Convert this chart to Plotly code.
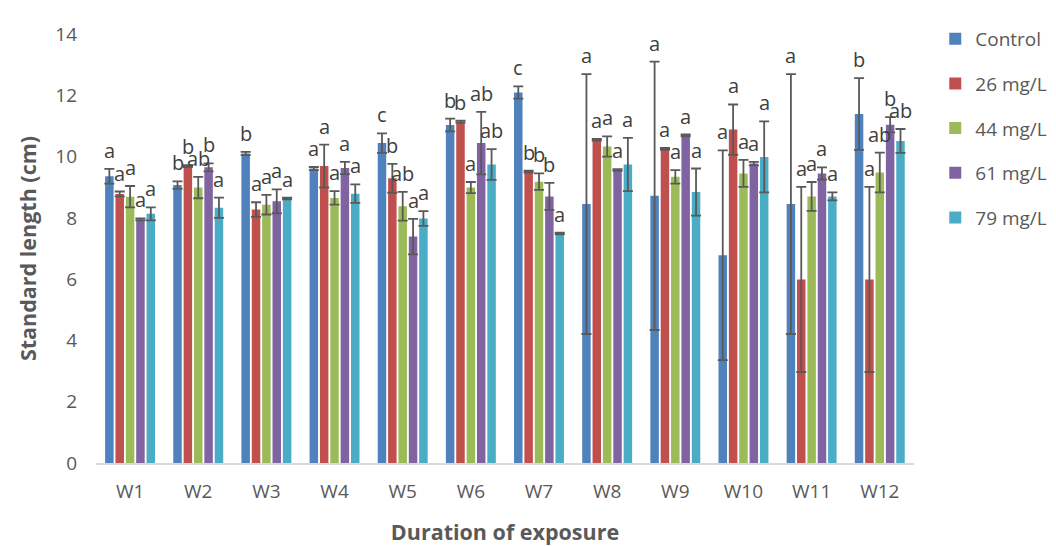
import plotly.graph_objects as go

weeks = ["W1", "W2", "W3", "W4", "W5", "W6", "W7", "W8", "W9", "W10", "W11", "W12"]
series_names = ["Control", "26 mg/L", "44 mg/L", "61 mg/L", "79 mg/L"]
colors = ["#4F81BD", "#C0504D", "#9BBB59", "#8064A2", "#4BACC6"]

control = [9.36, 9.07, 10.10, 9.61, 10.44, 11.03, 12.09, 8.45, 8.72, 6.78, 8.45, 11.39]
mg26 = [8.78, 9.69, 8.27, 9.69, 9.29, 11.14, 9.51, 10.55, 10.25, 10.88, 5.99, 5.99]
mg44 = [8.69, 8.99, 8.43, 8.65, 8.38, 8.99, 9.18, 10.33, 9.34, 9.45, 8.70, 9.48]
mg61 = [7.95, 9.65, 8.54, 9.63, 7.39, 10.44, 8.70, 9.56, 10.69, 9.77, 9.45, 11.04]
mg79 = [8.13, 8.33, 8.63, 8.79, 7.98, 9.74, 7.49, 9.74, 8.84, 9.99, 8.70, 10.51]

control_err = [0.24, 0.12, 0.05, 0.05, 0.32, 0.21, 0.20, 4.24, 4.38, 3.42, 4.24, 1.17]
mg26_err = [0.08, 0.03, 0.24, 0.70, 0.47, 0.03, 0.03, 0.03, 0.03, 0.82, 3.02, 3.02]
mg44_err = [0.35, 0.35, 0.32, 0.22, 0.47, 0.18, 0.27, 0.33, 0.22, 0.44, 0.47, 0.65]
mg61_err = [0.03, 0.13, 0.39, 0.20, 0.58, 1.02, 0.44, 0.03, 0.03, 0.06, 0.20, 0.25]
mg79_err = [0.21, 0.33, 0.03, 0.30, 0.24, 0.50, 0.03, 0.87, 0.77, 1.16, 0.13, 0.39]

control_lbl = ["a", "b", "b", "a", "c", "b", "c", "a", "a", "a", "a", "b"]
mg26_lbl = ["a", "b", "a", "a", "b", "b", "b", "a", "a", "a", "a", "a"]
mg44_lbl = ["a", "ab", "a", "a", "ab", "a", "b", "a", "a", "a", "a", "ab"]
mg61_lbl = ["a", "b", "a", "a", "a", "ab", "b", "a", "a", "a", "a", "b"]
mg79_lbl = ["a", "a", "a", "a", "a", "ab", "a", "a", "a", "a", "a", "ab"]

values = [control, mg26, mg44, mg61, mg79]
errors = [control_err, mg26_err, mg44_err, mg61_err, mg79_err]
labels = [control_lbl, mg26_lbl, mg44_lbl, mg61_lbl, mg79_lbl]

BARGAP = 0.24
GROUPGAP = 0.18
FONT = "'Open Sans', sans-serif"
TXT = "#595959"

fig = go.Figure()
for j, name in enumerate(series_names):
    fig.add_trace(go.Bar(
        x=weeks, y=values[j], name=name, legendgroup=name,
        marker=dict(color=colors[j], line=dict(width=0)),
        error_y=dict(type="data", array=errors[j], visible=True,
                     color="#595959", thickness=1.8, width=5),
    ))

annotations = []
slot = (1 - BARGAP) / len(series_names)
for j in range(len(series_names)):
    off = -(1 - BARGAP) / 2 + (j + 0.5) * slot
    for i in range(len(weeks)):
        annotations.append(dict(
            x=i + off, y=values[j][i] + errors[j][i], xref="x", yref="y",
            text=labels[j][i], showarrow=False, yanchor="bottom",
            yshift=3, font=dict(family=FONT, size=20, color="#404040"),
        ))

fig.update_layout(
    width=1056, height=547,
    margin=dict(l=88, r=148, t=21, b=92),
    paper_bgcolor="white", plot_bgcolor="white",
    barmode="group", bargap=BARGAP, bargroupgap=GROUPGAP,
    font=dict(family=FONT, size=19, color=TXT),
    annotations=annotations,
    legend=dict(x=1.026, y=1.033, xanchor="left", yanchor="top",
                font=dict(family=FONT, size=19, color=TXT),
                tracegroupgap=17, itemwidth=30),
    xaxis=dict(showgrid=False, showline=True, linecolor="#D9D9D9", linewidth=1.5,
               ticks="", ticklabelstandoff=10, tickfont=dict(size=19, color=TXT),
               title=dict(text="<b>Duration of exposure</b>", font=dict(size=21.5, color=TXT), standoff=22)),
    yaxis=dict(range=[0, 14], dtick=2, showgrid=False, zeroline=False, showline=False,
               ticks="", ticklabelstandoff=18, tickfont=dict(size=19, color=TXT),
               title=dict(text="<b>Standard length (cm)</b>", font=dict(size=21.5, color=TXT), standoff=12)),
)

fig.write_html("out.html")
